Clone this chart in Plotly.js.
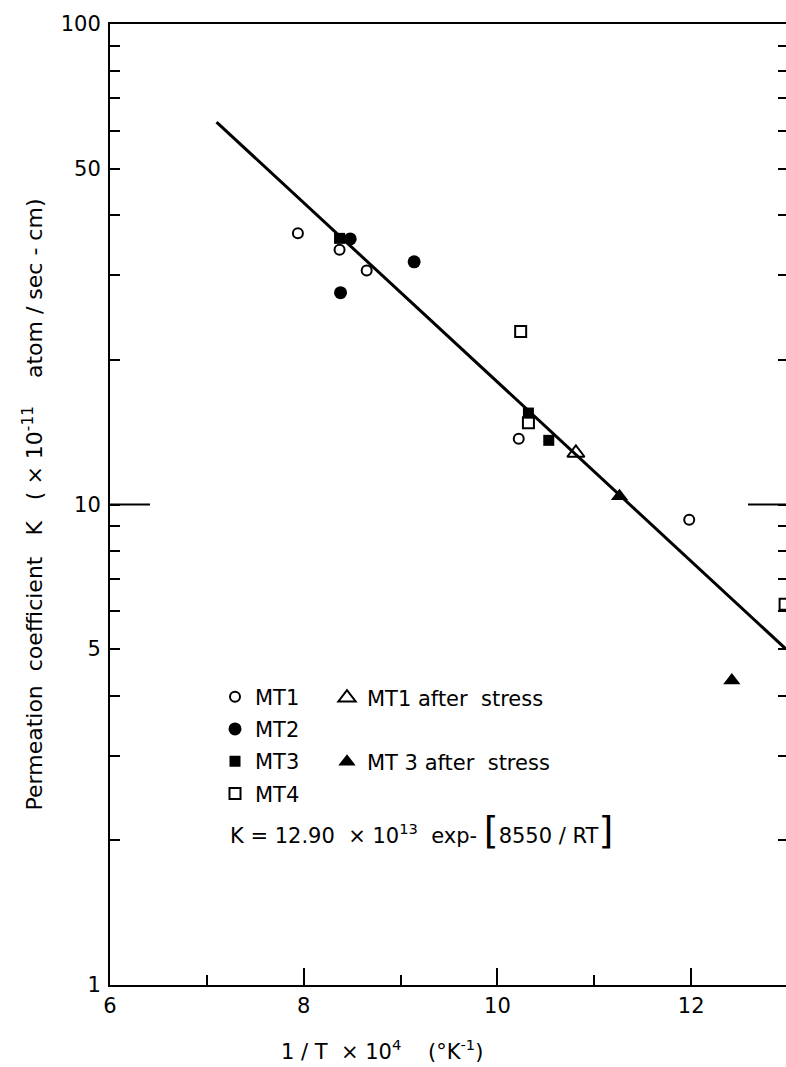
<!DOCTYPE html>
<html>
<head>
<meta charset="utf-8">
<script src="https://cdn.plot.ly/plotly-3.0.1.min.js"></script>
<style>
html, body { margin: 0; padding: 0; background: #fff; overflow: hidden; }
#chart { width: 790px; height: 1067px; }
</style>
</head>
<body>
<div id="chart"></div>
<script>
// ---- data ----
const mt1X = [7.94, 8.37, 8.65, 10.22, 11.98];
const mt1Y = [36.7, 33.9, 30.7, 13.7, 9.3];
const mt2X = [8.48, 8.38, 9.14];
const mt2Y = [35.7, 27.6, 32.0];
const mt3X = [8.37, 10.32, 10.53];
const mt3Y = [35.8, 15.5, 13.6];
const mt4X = [10.24, 10.32, 12.97];
const mt4Y = [22.9, 14.8, 6.2];
const mt1StressX = [10.81];
const mt1StressY = [12.8];
const mt3StressX = [11.26, 12.42];
const mt3StressY = [10.4, 4.3];
const fitX = [7.10, 12.98];
const fitY = [62.5, 5.0];

const xTickVals = [6, 8, 10, 12];
const xTickText = ['6', '8', '10', '12'];
const xMinorVals = [7, 9, 11];
const yTickVals = [1, 5, 10, 50, 100];
const yTickText = ['1', '5', '10', '50', '100'];
const yMinorVals = [2, 3, 4, 6, 7, 8, 9, 20, 30, 40, 60, 70, 80, 90];

const FONT = 'DejaVu Sans, Liberation Sans, sans-serif';
const NB = '\u00a0';

const traces = [
  { x: fitX, y: fitY, mode: 'lines', line: { color: '#000', width: 3 }, showlegend: false, hoverinfo: 'skip' },
  { x: mt1X, y: mt1Y, mode: 'markers', name: 'MT1', legend: 'legend', legendgroup: 'a',
    marker: { symbol: 'circle-open', size: 10, color: '#000', line: { width: 2, color: '#000' } } },
  { x: mt2X, y: mt2Y, mode: 'markers', name: 'MT2', legend: 'legend', legendgroup: 'b',
    marker: { symbol: 'circle', size: 13, color: '#000' } },
  { x: mt3X, y: mt3Y, mode: 'markers', name: 'MT3', legend: 'legend', legendgroup: 'c',
    marker: { symbol: 'square', size: 11, color: '#000' } },
  { x: mt4X, y: mt4Y, mode: 'markers', name: 'MT4', legend: 'legend', legendgroup: 'd',
    marker: { symbol: 'square-open', size: 11, color: '#000', line: { width: 2, color: '#000' } } },
  { x: mt1StressX, y: mt1StressY, mode: 'markers', name: 'MT1' + NB + 'after' + NB + NB + 'stress', legend: 'legend2',
    marker: { symbol: 'triangle-up-open', size: 15, color: '#000', line: { width: 2, color: '#000' } } },
  { x: mt3StressX, y: mt3StressY, mode: 'markers', name: 'MT' + NB + '3' + NB + 'after' + NB + NB + 'stress', legend: 'legend3',
    marker: { symbol: 'triangle-up', size: 15, color: '#000' } }
];

const legendCommon = {
  bgcolor: 'rgba(0,0,0,0)', borderwidth: 0,
  font: { family: FONT, size: 21, color: '#000' },
  xanchor: 'left', yanchor: 'middle', tracegroupgap: 2, itemclick: false
};

const layout = {
  width: 790, height: 1067,
  margin: { l: 110, r: 2, t: 24, b: 82 },
  paper_bgcolor: '#fff', plot_bgcolor: '#fff',
  font: { family: FONT, size: 20, color: '#000' },
  showlegend: true,
  xaxis: {
    range: [6, 13], showgrid: false, zeroline: false,
    showline: true, linecolor: '#000', linewidth: 2, mirror: true,
    ticks: 'inside', ticklen: 17, tickwidth: 2, tickcolor: '#000',
    tickmode: 'array', tickvals: xTickVals, ticktext: xTickText,
    ticklabelstandoff: 1,
    tickfont: { family: FONT, size: 21, color: '#000' },
    minor: { tickmode: 'array', tickvals: xMinorVals, ticks: 'inside', ticklen: 10, tickwidth: 2, tickcolor: '#000', showgrid: false }
  },
  yaxis: {
    type: 'log', range: [0, 2], showgrid: false, zeroline: false,
    showline: true, linecolor: '#000', linewidth: 2, mirror: 'ticks',
    ticks: 'inside', ticklen: 10, tickwidth: 2, tickcolor: '#000',
    tickmode: 'array', tickvals: yTickVals, ticktext: yTickText,
    ticklabelstandoff: 3,
    tickfont: { family: FONT, size: 21, color: '#000' },
    minor: { tickmode: 'array', tickvals: yMinorVals, ticks: 'inside', ticklen: 10, tickwidth: 2, tickcolor: '#000', showgrid: false },
    title: {
      text: 'Permeation' + NB + NB + 'coefficient' + NB + NB + NB + 'K' + NB + NB + NB + '(' + NB + '×' + NB + '10<sup>-11</sup>' + NB + NB + NB + NB + 'atom' + NB + '/' + NB + 'sec' + NB + '-' + NB + 'cm)',
      font: { family: FONT, size: 22, color: '#000' },
      standoff: 12
    }
  },
  legend: Object.assign({}, legendCommon, { x: (215 - 110) / 678, y: (985 - 745.5) / 961 }),
  legend2: Object.assign({}, legendCommon, { x: (327 - 110) / 678, y: (985 - 698) / 961 }),
  legend3: Object.assign({}, legendCommon, { x: (327 - 110) / 678, y: (985 - 762) / 961 }),
  shapes: [
    { type: 'line', xref: 'paper', yref: 'paper', x0: 0, x1: 40 / 678, y0: 0.5, y1: 0.5, line: { color: '#000', width: 2 } },
    { type: 'line', xref: 'paper', yref: 'paper', x0: (748 - 110) / 678, x1: 1, y0: 0.5, y1: 0.5, line: { color: '#000', width: 2 } }
  ],
  annotations: [
    { xref: 'paper', yref: 'paper', x: (228 - 110) / 678, y: (985 - 830) / 961, xanchor: 'left', yanchor: 'middle',
      showarrow: false, font: { family: FONT, size: 21, color: '#000' },
      text: 'K' + NB + '=' + NB + '12.90' + NB + NB + '×' + NB + '10<sup>13</sup>' + NB + NB + 'exp-' + NB + '<span style="font-size:38px">[</span>8550' + NB + '/' + NB + 'RT<span style="font-size:38px">]</span>' },
    { xref: 'paper', yref: 'paper', x: (382 - 110) / 678, y: (985 - 1050) / 961, xanchor: 'center', yanchor: 'middle',
      showarrow: false, font: { family: FONT, size: 21, color: '#000' },
      text: '1' + NB + '/' + NB + 'T' + NB + NB + '×' + NB + '10<sup>4</sup>' + NB + NB + NB + NB + '(°K<sup>-1</sup>)' }
  ]
};

Plotly.newPlot('chart', traces, layout, { displayModeBar: false, staticPlot: true });
</script>
</body>
</html>
